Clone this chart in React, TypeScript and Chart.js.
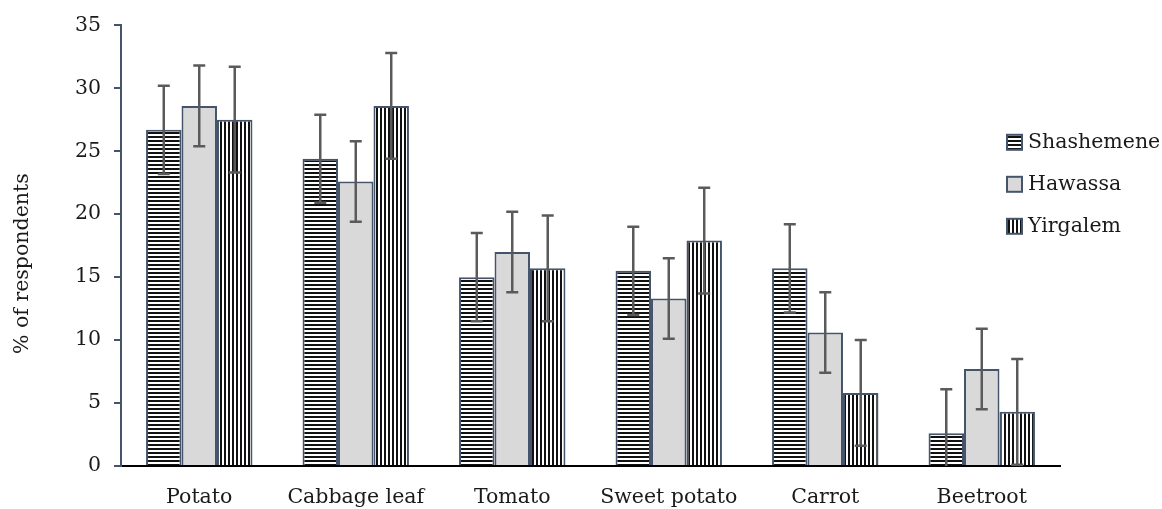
import React, { useEffect, useRef } from "react";
import { Chart, registerables } from "chart.js";

Chart.register(...registerables);

// Crops and sites
const categories = ["Potato", "Cabbage leaf", "Tomato", "Sweet potato", "Carrot", "Beetroot"];
const siteNames = ["Shashemene", "Hawassa", "Yirgalem"];

// % of respondents per crop and site
const shashemene = [26.7, 24.4, 15.0, 15.5, 15.7, 2.6];
const hawassa = [28.6, 22.6, 17.0, 13.3, 10.6, 7.7];
const yirgalem = [27.5, 28.6, 15.7, 17.9, 5.8, 4.3];

// Error bar half-lengths
const shashemeneErr = [3.5, 3.5, 3.5, 3.5, 3.5, 3.5];
const hawassaErr = [3.2, 3.2, 3.2, 3.2, 3.2, 3.2];
const yirgalemErr = [4.2, 4.2, 4.2, 4.2, 4.2, 4.2];

// Y axis range
const yMin = 0;
const yMax = 35;
const yStep = 5;
const yTitle = "% of respondents";

const FONT = "'DejaVu Serif', serif";
const BORDER = "#44546A";
const TEXT = "#1a1a1a";

function stripePattern(vertical: boolean): CanvasPattern | string {
  const c = document.createElement("canvas");
  c.width = 4;
  c.height = 4;
  const g = c.getContext("2d");
  if (!g) return "#777";
  g.fillStyle = "#ffffff";
  g.fillRect(0, 0, 4, 4);
  g.fillStyle = "#111111";
  if (vertical) g.fillRect(0, 0, 2, 4);
  else g.fillRect(0, 0, 4, 2);
  const p = g.createPattern(c, "repeat");
  return p || "#777";
}

const errorBarsPlugin = {
  id: "errorBars",
  afterDatasetsDraw(chart: any) {
    const ctx = chart.ctx;
    const yScale = chart.scales.y;
    const area = chart.chartArea;
    chart.data.datasets.forEach((ds: any, di: number) => {
      const meta = chart.getDatasetMeta(di);
      const errs: number[] = ds.errors || [];
      meta.data.forEach((bar: any, i: number) => {
        const v = ds.data[i];
        const e = errs[i] || 0;
        const yTop = yScale.getPixelForValue(v + e);
        const lowVal = v - e;
        const yBot = yScale.getPixelForValue(Math.max(lowVal, yMin));
        const x = bar.x;
        ctx.save();
        ctx.beginPath();
        ctx.rect(area.left, area.top - 20, area.right - area.left, area.bottom - area.top + 20);
        ctx.clip();
        ctx.strokeStyle = "#5a5a5a";
        ctx.lineWidth = 2.5;
        ctx.beginPath();
        ctx.moveTo(x, yTop);
        ctx.lineTo(x, yBot);
        ctx.moveTo(x - 6, yTop);
        ctx.lineTo(x + 6, yTop);
        if (lowVal >= yMin) {
          ctx.moveTo(x - 6, yBot);
          ctx.lineTo(x + 6, yBot);
        }
        ctx.stroke();
        ctx.restore();
      });
    });
  },
};

// Legend drawn inside the plot area, upper right
const legendPlugin = {
  id: "insideLegend",
  afterDraw(chart: any) {
    const ctx = chart.ctx;
    const area = chart.chartArea;
    const x0 = area.right - 53;
    ctx.save();
    chart.data.datasets.forEach((ds: any, i: number) => {
      const cy = area.top + 117 + i * 42;
      ctx.fillStyle = ds.backgroundColor;
      ctx.fillRect(x0, cy - 7.5, 15, 15);
      ctx.strokeStyle = BORDER;
      ctx.lineWidth = 2;
      ctx.strokeRect(x0, cy - 7.5, 15, 15);
      ctx.fillStyle = TEXT;
      ctx.font = `20.5px ${FONT}`;
      ctx.textBaseline = "middle";
      ctx.textAlign = "left";
      ctx.fillText(ds.label, x0 + 21, cy);
    });
    ctx.restore();
  },
};

// Rotated y axis title, set a little below the plot's middle
const yTitlePlugin = {
  id: "yTitle",
  afterDraw(chart: any) {
    const ctx = chart.ctx;
    const area = chart.chartArea;
    ctx.save();
    ctx.translate(23, (area.top + area.bottom) / 2 + 18);
    ctx.rotate(-Math.PI / 2);
    ctx.fillStyle = TEXT;
    ctx.font = `20.5px ${FONT}`;
    ctx.textAlign = "center";
    ctx.textBaseline = "middle";
    ctx.fillText(yTitle, 0, 0);
    ctx.restore();
  },
};

export default function App() {
  const canvasRef = useRef<HTMLCanvasElement | null>(null);

  useEffect(() => {
    const canvas = canvasRef.current;
    if (!canvas) return;
    const fills = [stripePattern(false), "#d9d9d9", stripePattern(true)];
    const values = [shashemene, hawassa, yirgalem];
    const errors = [shashemeneErr, hawassaErr, yirgalemErr];

    const chart = new Chart(canvas, {
      type: "bar",
      data: {
        labels: categories,
        datasets: siteNames.map((name, i) => ({
          label: name,
          data: values[i],
          errors: errors[i],
          backgroundColor: fills[i] as any,
          borderColor: BORDER,
          borderWidth: 2,
          categoryPercentage: 0.68,
          barPercentage: 1.0,
        })) as any,
      },
      options: {
        animation: false,
        responsive: false,
        maintainAspectRatio: false,
        layout: { padding: { left: 0, right: 102, top: 24, bottom: 0 } },
        plugins: {
          legend: { display: false },
          tooltip: { enabled: false },
        },
        scales: {
          x: {
            grid: { display: false },
            border: { display: true, color: "#000000", width: 2 },
            ticks: {
              color: TEXT,
              font: { family: FONT, size: 20.5 },
              padding: 11,
              maxRotation: 0,
              autoSkip: false,
            },
            afterFit(scale: any) {
              scale.height = 43;
            },
          },
          y: {
            min: yMin,
            max: yMax,
            grid: {
              drawOnChartArea: false,
              drawTicks: true,
              tickLength: 7,
              color: BORDER,
              lineWidth: 2,
            },
            border: { display: true, color: BORDER, width: 2 },
            ticks: {
              stepSize: yStep,
              color: TEXT,
              font: { family: FONT, size: 20.5 },
              padding: 13,
            },
            afterFit(scale: any) {
              scale.width = 121;
            },
          },
        },
      },
      plugins: [errorBarsPlugin, legendPlugin, yTitlePlugin],
    });

    return () => chart.destroy();
  }, []);

  return (
    <div style={{ position: "fixed", left: 0, top: 0, width: 1162, height: 509, background: "#ffffff" }}>
      <canvas ref={canvasRef} width={1162} height={509} style={{ display: "block" }} />
    </div>
  );
}
